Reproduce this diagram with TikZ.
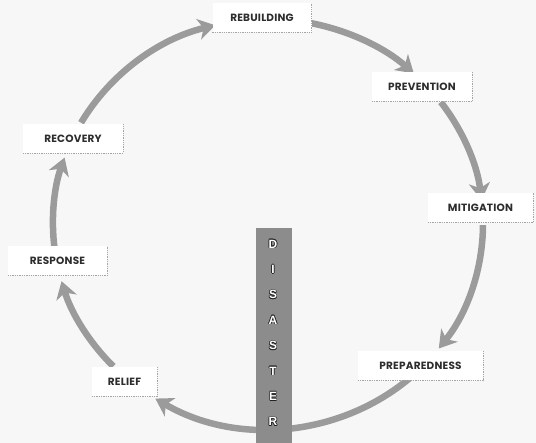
\documentclass[tikz,border=0pt]{standalone}
\usepackage{fontspec}
\setmainfont{Liberation Sans}
\newfontfamily\labfont[LetterSpace=2]{Poppins}
\usetikzlibrary{arrows.meta,calc}
\definecolor{bg}{RGB}{247,247,247}
\definecolor{arr}{RGB}{155,155,155}
\definecolor{colfill}{RGB}{140,140,140}
\definecolor{txt}{RGB}{45,45,45}
\definecolor{shd}{RGB}{165,165,165}
\definecolor{dk}{RGB}{35,35,35}
\begin{document}
\begin{tikzpicture}[x=1pt,y=1pt,
  lbl/.style={fill=white, font=\labfont\bfseries\fontsize{10.5}{12}\selectfont, text=txt, inner sep=0pt, minimum height=29pt},
  shadowline/.style={draw=shd, line width=1.3pt, densely dotted},
  cyc/.style={draw=arr, line width=6.5pt, -{Stealth[length=17pt,width=21pt,inset=5pt]}},
  colbox/.style={fill=colfill, inner sep=0pt, minimum width=36pt, minimum height=215pt},
  letdark/.style={text=dk, font=\bfseries\fontsize{12}{14}\selectfont, inner sep=0pt},
  letwhite/.style={text=white, font=\bfseries\fontsize{12}{14}\selectfont, inner sep=0pt}]
\fill[bg] (0,0) rectangle (536,443);
\useasboundingbox (0,0) rectangle (536,443);
\coordinate (C) at (268,219);
% cycle arrows
\foreach \n/\a/\b in {1/150.4/104.2, 2/79.1/47.3, 3/36.5/6.7, 4/-0.3/-37.4, 5/-48.2/-121.6, 6/-136/-163.8, 7/187.3/161.1}{
  \coordinate (s\n) at ($(C)+(\a:215pt and 205pt)$);
  \draw[cyc] (s\n) arc[start angle=\a, end angle=\b, x radius=215, y radius=205];
}
% disaster column
\node[colbox] (disaster) at (274,107.5) {};
\foreach \L [count=\i] in {D,I,S,A,S,T,E,R}{
  \foreach \dx/\dy in {0.6/0,-0.6/0,0/0.6,0/-0.6,0.42/0.42,-0.42/0.42,0.42/-0.42,-0.42/-0.42}{
    \node[letdark] at ($(273,224.4-\i*25.4)+(\dx,\dy)$) {\L};
  }
  \node[letwhite] (l\i) at (273,224.4-\i*25.4) {\L};
}
% labels
\node[lbl, minimum width=99pt] (rebuilding) at (262,425) {REBUILDING};
\node[lbl, minimum width=100pt] (prevention) at (422,356) {PREVENTION};
\node[lbl, minimum width=100pt] (recovery) at (73,304.5) {RECOVERY};
\node[lbl, minimum width=105pt] (mitigation) at (480.5,235) {MITIGATION};
\node[lbl, minimum width=99pt] (response) at (57.5,182) {RESPONSE};
\node[lbl, minimum width=65pt] (relief) at (124.5,61) {RELIEF};
\node[lbl, minimum width=125pt] (preparedness) at (420.5,77) {PREPAREDNESS};
\foreach \b in {rebuilding,prevention,recovery,mitigation,response,relief,preparedness}{
  \draw[shadowline] (\b.south west) -- (\b.south east) -- (\b.north east);
}
\end{tikzpicture}
\end{document}
